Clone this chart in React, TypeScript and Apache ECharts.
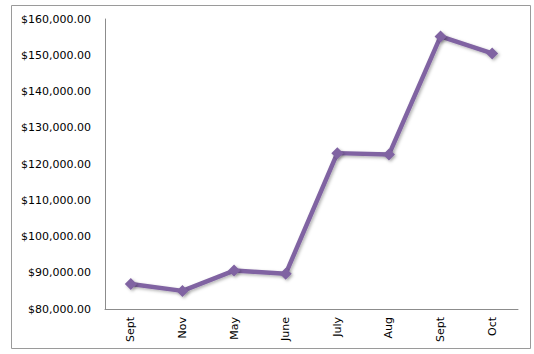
import React, { useEffect, useRef } from "react";
import * as echarts from "echarts";

const categories = ["Sept", "Nov", "May", "June", "July", "Aug", "Sept", "Oct"];
const values = [86900, 85000, 90600, 89700, 123000, 122600, 155200, 150500];
const yMin = 80000;
const yMax = 160000;
const yInterval = 10000;

export default function App() {
  const ref = useRef<HTMLDivElement>(null);
  useEffect(() => {
    document.body.style.margin = "0";
    const chart = echarts.init(ref.current!, undefined, { renderer: "svg" });
    const fmt = (v: number) =>
      "$" + v.toLocaleString("en-US", { minimumFractionDigits: 2, maximumFractionDigits: 2 });
    chart.setOption({
      animation: false,
      backgroundColor: "#ffffff",
      textStyle: { fontFamily: "DejaVu Sans" },
      graphic: [
        {
          type: "rect",
          shape: { x: 11.5, y: 5.5, width: 519, height: 343 },
          style: { fill: "none", stroke: "#9a9a9a", lineWidth: 1 },
          silent: true,
        },
      ],
      grid: { left: 105, right: 16, top: 19, bottom: 45, containLabel: false },
      xAxis: {
        type: "category",
        data: categories,
        boundaryGap: true,
        axisLine: { lineStyle: { color: "#8c8c8c", width: 1 } },
        axisTick: { show: false },
        axisLabel: { rotate: 90, color: "#000", fontSize: 11, margin: 8, interval: 0 },
      },
      yAxis: {
        type: "value",
        min: yMin,
        max: yMax,
        interval: yInterval,
        axisLine: { show: true, lineStyle: { color: "#8c8c8c", width: 1 } },
        axisTick: { show: false },
        splitLine: { show: false },
        axisLabel: { color: "#000", fontSize: 11, margin: 14, formatter: fmt },
      },
      series: [
        {
          type: "line",
          data: values,
          symbol: "diamond",
          symbolSize: 12,
          lineStyle: {
            color: "#8064a2",
            width: 4.5,
            shadowColor: "rgba(0,0,0,0.3)",
            shadowBlur: 3,
            shadowOffsetX: 1.5,
            shadowOffsetY: 1.5,
          },
          itemStyle: {
            color: "#8064a2",
            shadowColor: "rgba(0,0,0,0.3)",
            shadowBlur: 3,
            shadowOffsetX: 1.5,
            shadowOffsetY: 1.5,
          },
        },
      ],
    });
    return () => chart.dispose();
  }, []);
  return <div ref={ref} style={{ width: 534, height: 354 }} />;
}
